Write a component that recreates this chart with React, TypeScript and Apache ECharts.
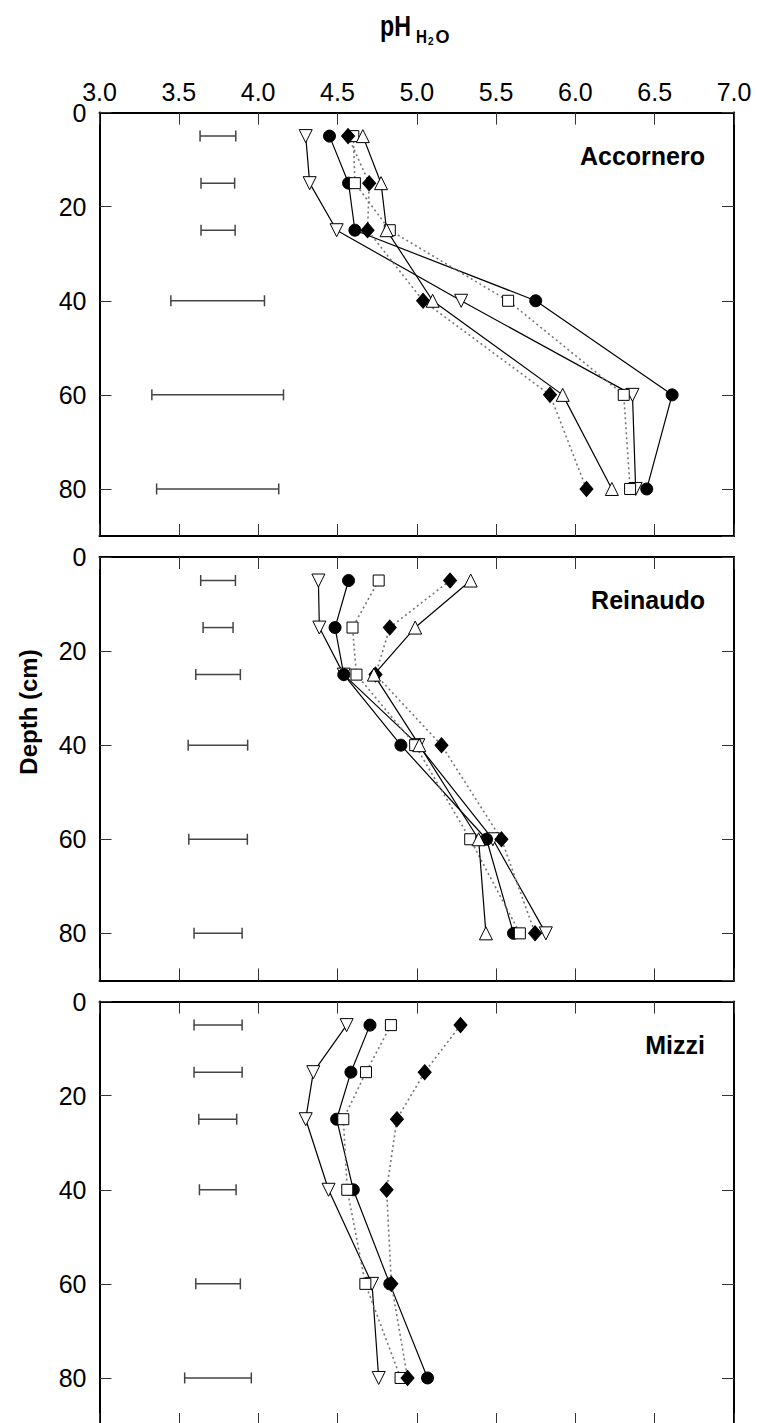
import React, { useEffect, useRef } from "react";
import * as echarts from "echarts";

// ---- data ----
const depths = [5, 15, 25, 40, 60, 80];
const xTicks = [3.0, 3.5, 4.0, 4.5, 5.0, 5.5, 6.0, 6.5, 7.0];
const yTicks = [0, 20, 40, 60, 80];
const panelNames = ["Accornero", "Reinaudo", "Mizzi"];

// Accornero
const accTriDown = [4.3, 4.325, 4.495, 5.28, 6.36, 6.38];
const accCircle = [4.45, 4.57, 4.61, 5.75, 6.61, 6.45];
const accSquare = [4.6, 4.61, 4.83, 5.576, 6.305, 6.345];
const accDiamond = [4.567, 4.7, 4.69, 5.04, 5.84, 6.07];
const accTriUp = [4.66, 4.775, 4.81, 5.1, 5.92, 6.23];
const accErrLow = [3.634, 3.64, 3.64, 3.45, 3.33, 3.36];
const accErrHigh = [3.859, 3.852, 3.855, 4.04, 4.16, 4.13];

// Reinaudo
const reiTriDown = [4.38, 4.386, 4.54, 5.01, 5.48, 5.814];
const reiCircle = [4.57, 4.485, 4.54, 4.9, 5.44, 5.61];
const reiSquare = [4.76, 4.595, 4.62, 4.99, 5.337, 5.65];
const reiDiamond = [5.21, 4.83, 4.74, 5.156, 5.534, 5.746];
const reiTriUp = [5.34, 4.99, 4.73, 5.016, 5.39, 5.436];
const reiErrLow = [3.638, 3.653, 3.607, 3.559, 3.563, 3.596];
const reiErrHigh = [3.857, 3.842, 3.888, 3.934, 3.932, 3.899];

// Mizzi
const mizTriDown = [4.558, 4.348, 4.3, 4.444, 4.718, 4.76];
const mizCircle = [4.705, 4.585, 4.495, 4.6, 4.83, 5.068];
const mizSquare = [4.837, 4.68, 4.537, 4.562, 4.676, 4.898];
const mizDiamond = [5.276, 5.05, 4.875, 4.81, 4.84, 4.942];
const mizErrLow = [3.596, 3.596, 3.626, 3.63, 3.607, 3.537];
const mizErrHigh = [3.899, 3.899, 3.865, 3.861, 3.888, 3.957];

const panels = [
  { triDown: accTriDown, circle: accCircle, square: accSquare, diamond: accDiamond, triUp: accTriUp, errLow: accErrLow, errHigh: accErrHigh },
  { triDown: reiTriDown, circle: reiCircle, square: reiSquare, diamond: reiDiamond, triUp: reiTriUp, errLow: reiErrLow, errHigh: reiErrHigh },
  { triDown: mizTriDown, circle: mizCircle, square: mizSquare, diamond: mizDiamond, triUp: null, errLow: mizErrLow, errHigh: mizErrHigh },
];

const FONT = "Liberation Sans, Arial, sans-serif";
const GRID_TOPS = [112.6, 557, 1001.6];
const GRID_H = 423.4;

const markerDefs: any = {
  triDown: { symbol: "triangle", size: 13, rotate: 180, fill: "#fff", line: "solid" },
  circle: { symbol: "circle", size: 12, rotate: 0, fill: "#000", line: "solid" },
  square: { symbol: "rect", size: 11, rotate: 0, fill: "#fff", line: "dotted" },
  diamond: { symbol: "diamond", size: [13, 15], rotate: 0, fill: "#000", line: "dotted" },
  triUp: { symbol: "triangle", size: 13, rotate: 0, fill: "#fff", line: "solid" },
};
const order = ["triDown", "circle", "square", "diamond", "triUp"];

function buildOption() {
  const grid: any[] = [];
  const xAxis: any[] = [];
  const yAxis: any[] = [];
  const series: any[] = [];
  const graphic: any[] = [];

  panels.forEach((p: any, i) => {
    grid.push({ left: 99.5, right: 23, top: GRID_TOPS[i], height: GRID_H, containLabel: false });
    const xBase = {
      type: "value",
      gridIndex: i,
      min: xTicks[0],
      max: xTicks[xTicks.length - 1],
      interval: 0.5,
      splitLine: { show: false },
      axisLine: { show: true, onZero: false, lineStyle: { color: "#000", width: 2 } },
      axisTick: { show: true, inside: true, length: 12, lineStyle: { color: "#333", width: 1 } },
    };
    xAxis.push({
      ...xBase,
      position: "top",
      axisLabel: {
        show: i === 0,
        margin: 8,
        fontSize: 25,
        fontFamily: FONT,
        color: "#000",
        formatter: (v: number) => v.toFixed(1),
      },
    });
    xAxis.push({ ...xBase, position: "bottom", axisLabel: { show: false } });

    const yBase = {
      type: "value",
      gridIndex: i,
      inverse: true,
      min: 0,
      max: 90,
      interval: 20,
      splitLine: { show: false },
      axisLine: { show: true, onZero: false, lineStyle: { color: "#000", width: 2 } },
      axisTick: { show: true, inside: true, length: 12, lineStyle: { color: "#333", width: 1 } },
    };
    yAxis.push({
      ...yBase,
      position: "left",
      axisLabel: {
        show: true,
        margin: 13,
        fontSize: 25,
        fontFamily: FONT,
        color: "#000",
        showMaxLabel: false,
        formatter: (v: number) => (yTicks.indexOf(v) >= 0 ? String(v) : ""),
      },
    });
    yAxis.push({ ...yBase, position: "right", axisLabel: { show: false } });

    const xi = 2 * i;
    const yi = 2 * i;

    // error bars
    series.push({
      type: "custom",
      xAxisIndex: xi,
      yAxisIndex: yi,
      z: 2,
      encode: { x: [0, 1], y: 2 },
      data: depths.map((d, j) => [p.errLow[j], p.errHigh[j], d]),
      renderItem: (params: any, api: any) => {
        const a = api.coord([api.value(0), api.value(2)]);
        const b = api.coord([api.value(1), api.value(2)]);
        const st = { stroke: "#444", lineWidth: 1.5 };
        const h = 5.5;
        return {
          type: "group",
          children: [
            { type: "line", shape: { x1: a[0], y1: a[1], x2: b[0], y2: b[1] }, style: st },
            { type: "line", shape: { x1: a[0], y1: a[1] - h, x2: a[0], y2: a[1] + h }, style: st },
            { type: "line", shape: { x1: b[0], y1: b[1] - h, x2: b[0], y2: b[1] + h }, style: st },
          ],
        };
      },
    });

    // lines
    order.forEach((k) => {
      const vals = p[k];
      if (!vals) return;
      const m = markerDefs[k];
      series.push({
        type: "line",
        xAxisIndex: xi,
        yAxisIndex: yi,
        z: 2,
        symbol: "none",
        data: vals.map((v: number, j: number) => [v, depths[j]]),
        lineStyle:
          m.line === "solid"
            ? { color: "#000", width: 1.2, type: "solid" }
            : { color: "#777", width: 1.6, type: [2, 3] },
        silent: true,
      });
    });
    // markers
    order.forEach((k) => {
      const vals = p[k];
      if (!vals) return;
      const m = markerDefs[k];
      series.push({
        type: "scatter",
        xAxisIndex: xi,
        yAxisIndex: yi,
        z: 3,
        symbol: m.symbol,
        symbolSize: m.size,
        symbolRotate: m.rotate,
        data: vals.map((v: number, j: number) => [v, depths[j]]),
        itemStyle: { color: m.fill, borderColor: "#000", borderWidth: 1, opacity: 1 },
      });
    });

    graphic.push({
      type: "text",
      x: 705,
      y: GRID_TOPS[i] + 43,
      style: { text: panelNames[i], font: `bold 25px ${FONT}`, fill: "#000", align: "right", verticalAlign: "middle" },
    });
  });

  // title pH_{H2O}
  graphic.push({ type: "text", x: 380, y: 26, scaleX: 0.8, style: { text: "pH", font: `bold 29px ${FONT}`, fill: "#000", align: "left", verticalAlign: "middle" } });
  graphic.push({ type: "text", x: 416, y: 36, scaleX: 0.8, style: { text: "H", font: `bold 19px ${FONT}`, fill: "#000", align: "left", verticalAlign: "middle" } });
  graphic.push({ type: "text", x: 428, y: 41, style: { text: "2", font: `bold 10px ${FONT}`, fill: "#000", align: "left", verticalAlign: "middle" } });
  graphic.push({ type: "text", x: 435.5, y: 36, scaleX: 0.95, style: { text: "O", font: `bold 19px ${FONT}`, fill: "#000", align: "left", verticalAlign: "middle" } });

  // y axis name
  graphic.push({
    type: "text",
    x: 28,
    y: 712,
    rotation: Math.PI / 2,
    style: { text: "Depth (cm)", font: `bold 24px ${FONT}`, fill: "#000", align: "center", verticalAlign: "middle" },
  });

  return { animation: false, backgroundColor: "#fff", grid, xAxis, yAxis, series, graphic };
}

export default function App() {
  const ref = useRef<HTMLDivElement>(null);
  useEffect(() => {
    if (!ref.current) return;
    const chart = echarts.init(ref.current, undefined, { renderer: "svg" });
    chart.setOption(buildOption() as any);
    return () => chart.dispose();
  }, []);
  return (
    <div
      ref={ref}
      style={{ position: "absolute", left: 0, top: 0, width: 757, height: 1430, background: "#fff" }}
    />
  );
}
